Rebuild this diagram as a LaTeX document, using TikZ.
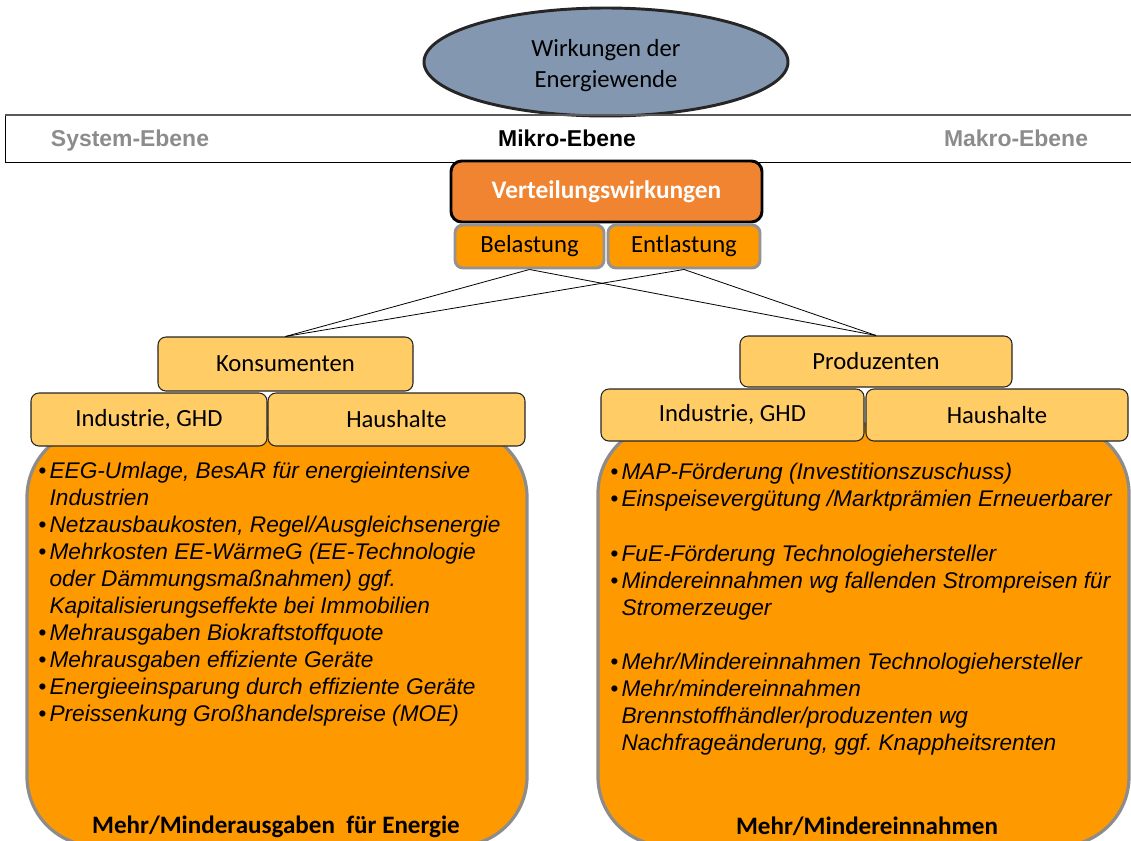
\documentclass[tikz,border=0pt]{standalone}
\usepackage{fontspec}
\setmainfont{Carlito}
\newfontfamily\arialf{Liberation Sans}
\usetikzlibrary{shapes.geometric,fit}
\definecolor{ellfill}{HTML}{8497B0}
\definecolor{verteil}{HTML}{F08431}
\definecolor{orng}{HTML}{FF9900}
\definecolor{lightor}{HTML}{FFCC66}
\definecolor{bannergray}{HTML}{8C8C8C}
\frenchspacing
\tikzset{
  lbox/.style={draw=black!85, line width=0.8pt, fill=lightor, rounded corners=6pt, inner sep=0pt, font=\fontsize{18.5}{22}\selectfont},
  obox/.style={draw=gray!85, line width=2.2pt, fill=orng, rounded corners=6pt, inner sep=0pt, font=\fontsize{18.5}{22}\selectfont},
  bigbox/.style={draw=gray!90, line width=2.4pt, fill=orng, rounded corners=52pt, inner sep=0pt},
  banner/.style={font=\arialf\bfseries\fontsize{17.2}{20}\selectfont, inner sep=0pt, anchor=base},
  bullets/.style={font=\arialf\itshape\fontsize{17}{20.25}\selectfont, inner sep=0pt, anchor=north west, align=left},
  bottomlabel/.style={font=\bfseries\fontsize{18.8}{22}\selectfont, inner sep=0pt, anchor=base},
  conn/.style={draw=black, line width=0.6pt}
}
\newcommand{\bul}{\makebox[8.5pt][l]{\textbullet}}
\newcommand{\ind}{\hspace*{8.5pt}}
\begin{document}
\begin{tikzpicture}[x=0.75pt,y=-0.75pt]
\useasboundingbox (0,0) rectangle (1131,840);
\clip (0,0) rectangle (1131,840);
% big boxes
\node[bigbox, fit={(27,428)(527,846)}] (leftbig) {};
\node[bigbox, fit={(598,424)(1129,846)}] (rightbig) {};
% ellipse
\node[ellipse, draw=black!85, line width=2.2pt, fill=ellfill, minimum width=273pt, minimum height=81pt, inner sep=0pt] (top) at (606,62) {};
\node[align=center, inner sep=0pt, font=\fontsize{18.5}{23.25}\selectfont] (toptext) at (606,66) {Wirkungen der\\Energiewende};
% banner
\node[draw=black, line width=0.7pt, fit={(10,120)(1140,158)}] (band) {};
\draw[line width=1.6pt, draw=black!65] (band.north west) -- (band.north east);
\node[banner, text=bannergray] (sys) at (130,146) {System-Ebene};
\node[banner, text=black] (mik) at (567,146) {Mikro-Ebene};
\node[banner, text=bannergray] (mak) at (1016,146) {Makro-Ebene};
% Verteilungswirkungen
\node[draw=black, line width=2.2pt, fill=verteil, rounded corners=8pt, inner sep=0pt, minimum width=233.25pt, minimum height=45.75pt, text=white, font=\bfseries\fontsize{19}{22}\selectfont] (vw) at (606.5,191.5) {Verteilungswirkungen};
\node[obox, minimum width=111.75pt, minimum height=32.25pt] (bel) at (529.5,246.5) {Belastung};
\node[obox, minimum width=114pt, minimum height=32.25pt] (ent) at (684,246.5) {Entlastung};
% level 2
\node[lbox, minimum width=191.25pt, minimum height=40.5pt] (kon) at (285.5,364) {Konsumenten};
\node[lbox, minimum width=204pt, minimum height=38.25pt] (pro) at (876,361.5) {Produzenten};
\draw[conn] (bel.south) -- (kon.north);
\draw[conn] (bel.south) -- (pro.north);
\draw[conn] (ent.south) -- (kon.north);
\draw[conn] (ent.south) -- (pro.north);
% level 3
\node[lbox, minimum width=177pt, minimum height=39.75pt] (kind) at (149,419.5) {Industrie, GHD};
\node[lbox, minimum width=192.75pt, minimum height=39.75pt] (khh) at (396.5,419.5) {Haushalte};
\node[lbox, minimum width=197.25pt, minimum height=39pt] (pind) at (732.5,415) {Industrie, GHD};
\node[lbox, minimum width=196.5pt, minimum height=39pt] (phh) at (997,415) {Haushalte};
% bullet texts
\node[bullets] (ltext) at (38,462) {%
\bul EEG-Umlage, BesAR für energieintensive\\
\ind Industrien\\
\bul Netzausbaukosten, Regel/Ausgleichsenergie\\
\bul Mehrkosten EE-WärmeG (EE-Technologie\\
\ind oder Dämmungsmaßnahmen) ggf.\\
\ind Kapitalisierungseffekte bei Immobilien\\
\bul Mehrausgaben Biokraftstoffquote\\
\bul Mehrausgaben effiziente Geräte\\
\bul Energieeinsparung durch effiziente Geräte\\
\bul Preissenkung Großhandelspreise (MOE)};
\node[bullets] (rtext) at (610,463) {%
\bul MAP-Förderung (Investitionszuschuss)\\
\bul Einspeisevergütung /Marktprämien Erneuerbarer\\[20.5pt]
\bul FuE-Förderung Technologiehersteller\\
\bul Mindereinnahmen wg fallenden Strompreisen für\\
\ind Stromerzeuger\\[20.5pt]
\bul Mehr/Mindereinnahmen Technologiehersteller\\
\bul Mehr/mindereinnahmen\\
\ind Brennstoffhändler/produzenten wg\\
\ind Nachfrageänderung, ggf. Knappheitsrenten};
\node[bottomlabel] (lbot) at (276,833) {Mehr/Minderausgaben\ \ für Energie};
\node[bottomlabel] (rbot) at (867,834) {Mehr/Mindereinnahmen};
\end{tikzpicture}
\end{document}
